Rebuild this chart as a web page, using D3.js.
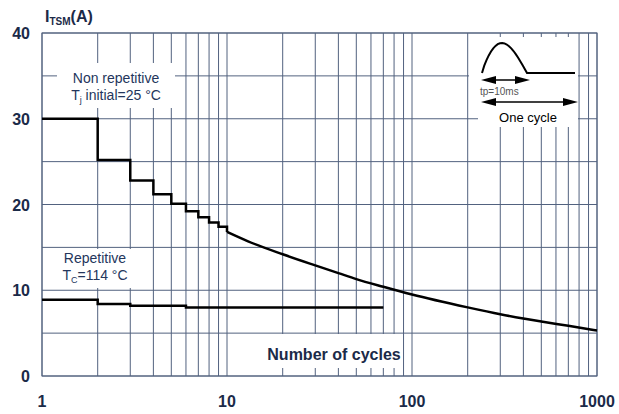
<!DOCTYPE html>
<html>
<head>
<meta charset="utf-8">
<script src="https://cdn.jsdelivr.net/npm/d3@7"></script>
<style>
  body { margin: 0; background: #fff; }
  svg { display: block; font-family: Arial, "Liberation Sans", sans-serif; }
  .grid line { stroke: #52627f; stroke-width: 1; }
  .tick-label { font-weight: bold; font-size: 16px; fill: #1b2a48; }
  .note { font-size: 14px; fill: #24365c; }
  .curve { fill: none; stroke: #000; stroke-width: 2.5; }
</style>
</head>
<body>
<svg id="chart" width="619" height="414"></svg>
<script>
// Non repetitive, stepped part (value holds until next cycle count)
const nonRepStepCycles = [1, 2, 3, 4, 5, 6, 7, 8, 9, 10];
const nonRepStepValues = [30, 25.2, 22.8, 21.2, 20.1, 19.2, 18.5, 17.9, 17.4, 16.8];

// Non repetitive, continuous part
const nonRepCycles = [10, 13, 20, 30, 40, 50, 70, 100, 200, 300, 400, 500, 700, 1000];
const nonRepValues = [16.8, 15.7, 14.2, 12.9, 12.0, 11.3, 10.4, 9.5, 8.0, 7.2, 6.7, 6.35, 5.85, 5.3];

// Repetitive
const repCycles = [1, 2, 3, 6, 70];
const repValues = [8.9, 8.4, 8.2, 8.0, 8.0];

const xTickLabels = [1, 10, 100, 1000];
const yTickLabels = [0, 10, 20, 30, 40];

const svg = d3.select("#chart");
const margin = { left: 42, right: 597, top: 33, bottom: 376 };

const x = d3.scaleLog().domain([1, 1000]).range([margin.left, margin.right]);
const y = d3.scaleLinear().domain([0, 40]).range([margin.bottom, margin.top]);

// сетка
const vLines = [];
[1, 10, 100].forEach(d => { for (let k = 1; k <= 9; k++) vLines.push(d * k); });
vLines.push(1000);
const hLines = d3.range(0, 41, 5);

const grid = svg.append("g").attr("class", "grid");
grid.selectAll(".v").data(vLines).join("line")
  .attr("x1", d => x(d)).attr("x2", d => x(d))
  .attr("y1", y(0)).attr("y2", y(40));
grid.selectAll(".h").data(hLines).join("line")
  .attr("x1", x(1)).attr("x2", x(1000))
  .attr("y1", d => y(d)).attr("y2", d => y(d));

// белые подложки под подписями
const boxes = [
  [57, 63, 118, 45],    // Non repetitive
  [51, 249, 87, 39],    // Repetitive
  [231, 334, 168, 34],  // Number of cycles
  [469, 37, 109, 71],   // импульс
  [478, 108, 100, 19]   // One cycle
];
svg.append("g").selectAll("rect").data(boxes).join("rect")
  .attr("x", d => d[0]).attr("y", d => d[1])
  .attr("width", d => d[2]).attr("height", d => d[3])
  .attr("fill", "#fff");

// рамка
svg.append("rect")
  .attr("x", x(1)).attr("y", y(40))
  .attr("width", x(1000) - x(1)).attr("height", y(0) - y(40))
  .attr("fill", "none").attr("stroke", "#52627f");

// кривые
const stepLine = d3.line().x(d => x(d[0])).y(d => y(d[1])).curve(d3.curveStepAfter);
const smoothLine = d3.line().x(d => x(d[0])).y(d => y(d[1])).curve(d3.curveMonotoneX);

svg.append("path").attr("class", "curve")
  .attr("d", stepLine(d3.zip(nonRepStepCycles, nonRepStepValues)));
svg.append("path").attr("class", "curve")
  .attr("d", smoothLine(d3.zip(nonRepCycles, nonRepValues)));
svg.append("path").attr("class", "curve")
  .attr("d", stepLine(d3.zip(repCycles, repValues)));

// подписи осей
svg.append("g").selectAll("text").data(yTickLabels).join("text")
  .attr("class", "tick-label")
  .attr("x", 30).attr("y", d => y(d) + 6)
  .attr("text-anchor", "end")
  .text(d => d);

svg.append("g").selectAll("text").data(xTickLabels).join("text")
  .attr("class", "tick-label")
  .attr("x", d => x(d)).attr("y", 407)
  .attr("text-anchor", "middle")
  .text(d => d);

const yTitle = svg.append("text").attr("x", 45).attr("y", 22)
  .attr("font-weight", "bold").attr("font-size", 16).attr("fill", "#1b2a48");
yTitle.append("tspan").text("I");
yTitle.append("tspan").attr("font-size", 10).attr("dy", 3).text("TSM");
yTitle.append("tspan").attr("dy", -3).text("(A)");

svg.append("text")
  .attr("x", 334).attr("y", 360)
  .attr("text-anchor", "middle")
  .attr("font-weight", "bold").attr("font-size", 16).attr("fill", "#1b2a48")
  .text("Number of cycles");

// Non repetitive
svg.append("text").attr("class", "note")
  .attr("x", 116).attr("y", 83).attr("text-anchor", "middle")
  .text("Non repetitive");
const tj = svg.append("text").attr("class", "note")
  .attr("x", 116).attr("y", 100).attr("text-anchor", "middle");
tj.append("tspan").text("T");
tj.append("tspan").attr("font-size", 9).attr("dy", 3).text("j");
tj.append("tspan").attr("dy", -3).text(" initial=25 °C");

// Repetitive
svg.append("text").attr("class", "note")
  .attr("x", 95).attr("y", 263).attr("text-anchor", "middle")
  .text("Repetitive");
const tc = svg.append("text").attr("class", "note")
  .attr("x", 95).attr("y", 280).attr("text-anchor", "middle");
tc.append("tspan").text("T");
tc.append("tspan").attr("font-size", 9).attr("dy", 3).text("C");
tc.append("tspan").attr("dy", -3).text("=114 °C");

// схема импульса в правом верхнем углу
const inset = svg.append("g");
const pulse = d3.range(0, 1.0001, 0.05).map(t => [482 + t * 45, 73 - Math.sin(Math.PI * Math.pow(t, 0.85)) * 30]);
pulse.push([575, 73]);
inset.append("path")
  .attr("d", d3.line()(pulse))
  .attr("fill", "none").attr("stroke", "#000").attr("stroke-width", 2);

function arrow(x1, x2, yy) {
  inset.append("line").attr("x1", x1 + 10).attr("x2", x2 - 10)
    .attr("y1", yy).attr("y2", yy).attr("stroke", "#000").attr("stroke-width", 1.5);
  inset.append("path").attr("d", `M${x1},${yy} L${x1 + 15},${yy - 4} L${x1 + 15},${yy + 4} Z`);
  inset.append("path").attr("d", `M${x2},${yy} L${x2 - 15},${yy - 4} L${x2 - 15},${yy + 4} Z`);
}
arrow(481, 530, 80);
arrow(481, 578, 102);

inset.append("text").attr("x", 480).attr("y", 95)
  .attr("font-size", 10).attr("fill", "#555").text("tp=10ms");
inset.append("text").attr("x", 528).attr("y", 122)
  .attr("text-anchor", "middle").attr("font-size", 13).attr("fill", "#000").text("One cycle");
</script>
</body>
</html>
